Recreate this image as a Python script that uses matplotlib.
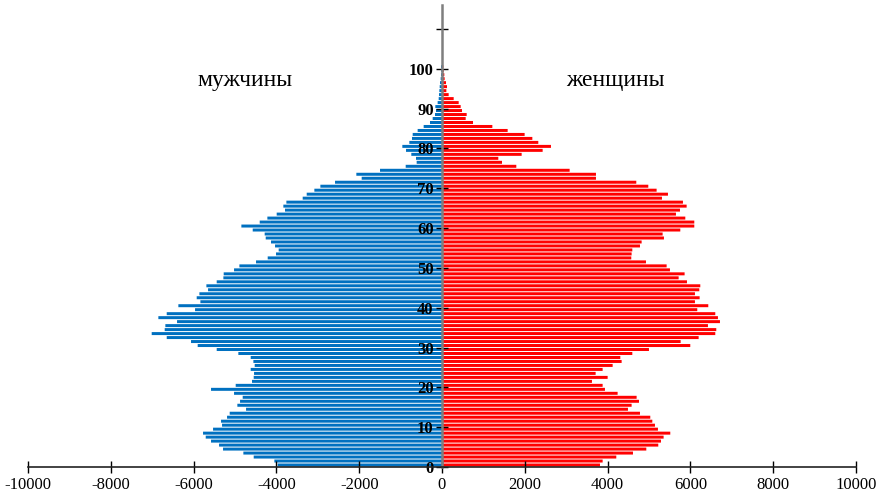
import numpy as np
import matplotlib
matplotlib.use("Agg")
import matplotlib.pyplot as plt

plt.rcParams['font.family'] = ['Liberation Serif', 'DejaVu Serif']

ages = np.arange(0, 101)

men = [
	3969, 4049, 4548, 4798, 5289, 5385, 5579, 5707, 5772, 5530,
	5313, 5337, 5192, 5128, 4733, 4943, 4878, 4814, 5023, 5579,
	4983, 4589, 4548, 4540, 4621, 4524, 4556, 4621, 4919, 5442,
	5901, 6062, 6649, 7012, 6698, 6682, 6400, 6851, 6649, 5965,
	6368, 5836, 5925, 5860, 5651, 5691, 5442, 5281, 5273, 5023,
	4894, 4492, 4210, 4009, 3945, 4033, 4130, 4258, 4283, 4572,
	4846, 4403, 4218, 3993, 3792, 3832, 3759, 3365, 3268, 3083,
	2938, 2584, 1940, 2069, 1497, 877, 612, 628, 741, 869,
	958, 789, 725, 708, 588, 443, 290, 225, 169, 145,
	161, 105, 80, 72, 64, 56, 48, 32, 24, 16,
	24
]
women = [
	3816, 3880, 4210, 4613, 4935, 5224, 5289, 5353, 5514, 5216,
	5144, 5080, 5031, 4782, 4492, 4580, 4758, 4701, 4242, 3936,
	3880, 3622, 4001, 3711, 3880, 4122, 4339, 4307, 4597, 4999,
	5997, 5764, 6199, 6601, 6625, 6424, 6714, 6665, 6601, 6166,
	6432, 6110, 6223, 6110, 6215, 6239, 5917, 5716, 5860, 5506,
	5426, 4927, 4572, 4580, 4597, 4782, 4822, 5361, 5329, 5756,
	6094, 6094, 5877, 5651, 5748, 5909, 5820, 5313, 5458, 5184,
	4983, 4693, 3719, 3719, 3083, 1795, 1449, 1360, 1924, 2431,
	2632, 2326, 2182, 1996, 1586, 1216, 749, 572, 596, 483,
	451, 403, 282, 161, 105, 121, 97, 64, 56, 40,
	32
]

yticks = list(range(0, 111, 10))
ytick_labels = [str(t) for t in yticks[:-1]] + [""]
xticks = list(range(-10000, 10001, 2000))

fig = plt.figure(figsize=(8.81, 4.97), dpi=100)
ax = fig.add_axes([28/881, 30/497, 828/881, 462/497])

# snap=False keeps the thin light gaps between bars regular
ax.barh(ages + 0.5, -np.array(men), height=0.75, color="#0070C0",
	linewidth=0, snap=False)
ax.barh(ages + 0.5, women, height=0.75, color="#FF0000",
	linewidth=0, snap=False)

ax.set_xlim(-10000, 10000)
ax.set_ylim(0, 116)

ax.spines["top"].set_visible(False)
ax.spines["right"].set_visible(False)
ax.spines["left"].set_position(("data", 0))
ax.spines["left"].set_color("#7f7f7f")
ax.spines["left"].set_linewidth(1.8)
ax.spines["bottom"].set_color("#222222")
ax.spines["bottom"].set_linewidth(1.2)

ax.set_xticks(xticks)
ax.set_xticklabels([str(t) for t in xticks], fontsize=12)
ax.set_yticks(yticks)
ax.set_yticklabels(ytick_labels, fontsize=12, fontweight="bold")
ax.tick_params(axis="both", direction="inout", length=8, width=1.0, color="black")
ax.tick_params(axis="y", pad=2)
ax.tick_params(axis="x", pad=3)

ax.text(-4750, 97, "мужчины", fontsize=17, ha="center", va="center")
ax.text(4190, 97, "женщины", fontsize=17, ha="center", va="center")

fig.savefig("out.png", dpi=100)
